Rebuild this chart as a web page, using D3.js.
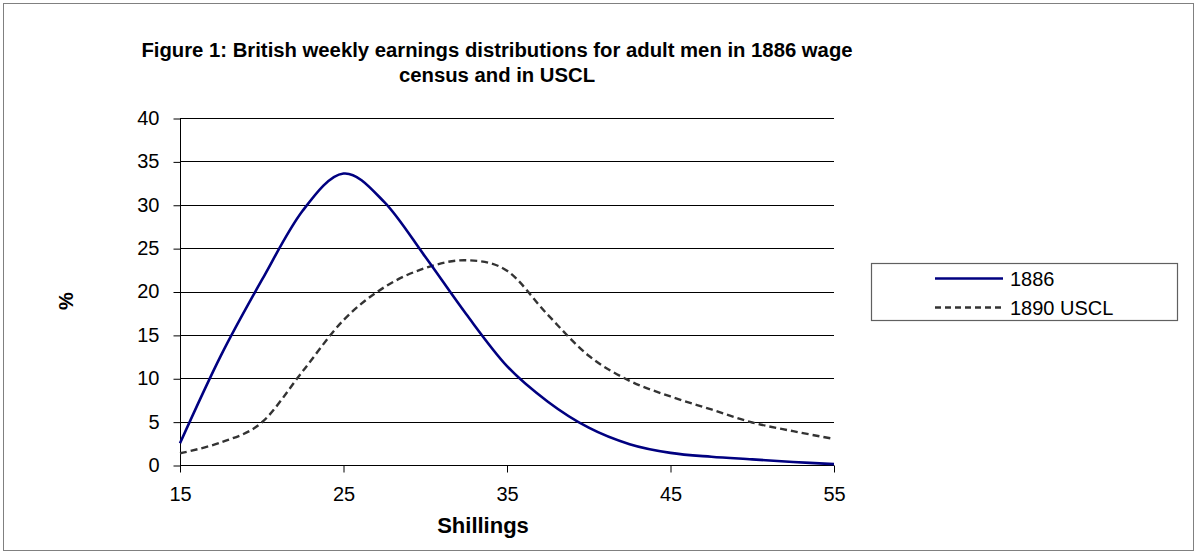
<!DOCTYPE html>
<html>
<head>
<meta charset="utf-8">
<script src="https://cdn.jsdelivr.net/npm/d3@7"></script>
<style>
    body { margin: 0; background: #fff; }
    #chart-area { width: 1198px; height: 555px; }
    text { font-family: "Liberation Sans", Arial, sans-serif; fill: #000; }
</style>
</head>
<body>
<div id="chart-area"></div>
<script>

// data (shillings vs % of adult men)
let shillings = [15, 17.5, 20, 22.5, 25, 27.5, 30, 32.5, 35, 37.5, 40, 42.5, 45, 47.5, 50, 52.5, 55];
let earnings1886 = [2.5, 12.6, 21.3, 29.3, 33.6, 30.3, 24.0, 17.4, 11.4, 7.3, 4.3, 2.4, 1.4, 0.95, 0.65, 0.35, 0.1];
let earningsUSCL = [1.35, 2.6, 4.9, 10.8, 16.7, 20.5, 22.7, 23.6, 22.4, 17.3, 12.6, 9.7, 7.9, 6.4, 4.9, 3.9, 3.0];

let xTicks = [15, 25, 35, 45, 55];
let yTicks = [0, 5, 10, 15, 20, 25, 30, 35, 40];
let seriesNames = ["1886", "1890 USCL"];
let titleLines = ["Figure 1: British weekly earnings distributions for adult men in 1886 wage", "census and in USCL"];


class EarningsVis {

    constructor(parentElement) {
        this.parentElement = parentElement;
        this.initVis();
    }

    initVis() {
        let vis = this;

        vis.width = 1198;
        vis.height = 555;
        vis.margin = {top: 118, right: 382, bottom: 90, left: 180};

        vis.svg = d3.select("#" + vis.parentElement).append("svg")
            .attr("width", vis.width)
            .attr("height", vis.height);

        // outer frame
        vis.svg.append("rect")
            .attr("x", 3.5).attr("y", 3.5)
            .attr("width", vis.width - 8).attr("height", vis.height - 8)
            .attr("fill", "#fff")
            .attr("stroke", "#808080")
            .attr("stroke-width", 1);

        // scales
        vis.x = d3.scaleLinear()
            .domain([15, 55])
            .range([vis.margin.left, vis.width - vis.margin.right + 18]);

        vis.y = d3.scaleLinear()
            .domain([0, 40])
            .range([vis.height - vis.margin.bottom, vis.margin.top]);

        // gridlines
        vis.svg.append("g")
            .selectAll("line")
            .data(yTicks)
            .enter().append("line")
            .attr("x1", vis.x(15))
            .attr("x2", vis.x(55))
            .attr("y1", d => Math.round(vis.y(d)) + 0.5)
            .attr("y2", d => Math.round(vis.y(d)) + 0.5)
            .attr("stroke", "#000")
            .attr("stroke-width", 1);

        // y axis
        let yAxis = d3.axisLeft(vis.y)
            .tickValues(yTicks)
            .tickSize(7)
            .tickPadding(14);

        vis.svg.append("g")
            .attr("transform", `translate(${Math.round(vis.x(15)) + 0.5},0)`)
            .call(yAxis)
            .call(g => g.selectAll("text").attr("font-size", "20px").attr("font-family", "Liberation Sans, Arial, sans-serif"))
            .call(g => g.selectAll(".tick line").attr("stroke", "#000").attr("transform", "translate(0,0.5)"))
            .call(g => g.select(".domain").attr("stroke", "#000").attr("d", `M0,${vis.y(40)}V${vis.y(0) + 7}`));

        // x axis
        let xAxis = d3.axisBottom(vis.x)
            .tickValues(xTicks)
            .tickSize(7)
            .tickPadding(14);

        vis.svg.append("g")
            .attr("transform", `translate(0,${Math.round(vis.y(0)) + 0.5})`)
            .call(xAxis)
            .call(g => g.selectAll("text").attr("font-size", "20px").attr("font-family", "Liberation Sans, Arial, sans-serif"))
            .call(g => g.selectAll(".tick line").attr("stroke", "#000"))
            .call(g => g.select(".domain").attr("stroke", "#000").attr("d", `M${vis.x(15)},0H${vis.x(55)}`));

        // axis titles
        vis.svg.append("text")
            .attr("x", 483)
            .attr("y", 533)
            .attr("text-anchor", "middle")
            .attr("font-size", "22px")
            .attr("font-weight", "bold")
            .text("Shillings");

        vis.svg.append("text")
            .attr("transform", `translate(73, 301) rotate(-90)`)
            .attr("text-anchor", "middle")
            .attr("font-size", "20px")
            .attr("font-weight", "bold")
            .text("%");

        // chart title
        vis.svg.append("g")
            .selectAll("text")
            .data(titleLines)
            .enter().append("text")
            .attr("x", 497)
            .attr("y", (d, i) => 57 + i * 25)
            .attr("text-anchor", "middle")
            .attr("font-size", "20.3px")
            .attr("font-weight", "bold")
            .text(d => d);

        vis.wrangleData();
    }

    wrangleData() {
        let vis = this;

        vis.series = [
            {name: seriesNames[0], values: shillings.map((s, i) => ({s: s, v: earnings1886[i]})),
                color: "#000080", width: 2.6, dash: null},
            {name: seriesNames[1], values: shillings.map((s, i) => ({s: s, v: earningsUSCL[i]})),
                color: "#333333", width: 2.4, dash: "7,4"}
        ];

        vis.updateVis();
    }

    updateVis() {
        let vis = this;

        // excel-like smoothing
        let line = d3.line()
            .x(d => vis.x(d.s))
            .y(d => vis.y(d.v))
            .curve(d3.curveCatmullRom.alpha(0));

        // draw dashed first so the blue line sits on top
        vis.svg.append("g")
            .selectAll("path")
            .data(vis.series.slice().reverse())
            .enter().append("path")
            .attr("d", d => line(d.values))
            .attr("fill", "none")
            .attr("stroke", d => d.color)
            .attr("stroke-width", d => d.width)
            .attr("stroke-dasharray", d => d.dash);

        // legend
        let legend = vis.svg.append("g");

        legend.append("rect")
            .attr("x", 871.5).attr("y", 263.5)
            .attr("width", 306).attr("height", 57)
            .attr("fill", "#fff")
            .attr("stroke", "#606060")
            .attr("stroke-width", 1.2);

        let rows = legend.selectAll(".legend-row")
            .data(vis.series)
            .enter().append("g")
            .attr("class", "legend-row")
            .attr("transform", (d, i) => `translate(0, ${278.5 + i * 29})`);

        rows.append("line")
            .attr("x1", 935).attr("x2", 1003)
            .attr("stroke", d => d.color)
            .attr("stroke-width", d => d.width)
            .attr("stroke-dasharray", d => d.dash ? "6,4" : null);

        rows.append("text")
            .attr("x", 1010)
            .attr("y", 7)
            .attr("font-size", "20px")
            .text(d => d.name);
    }
}

new EarningsVis("chart-area");

</script>
</body>
</html>
